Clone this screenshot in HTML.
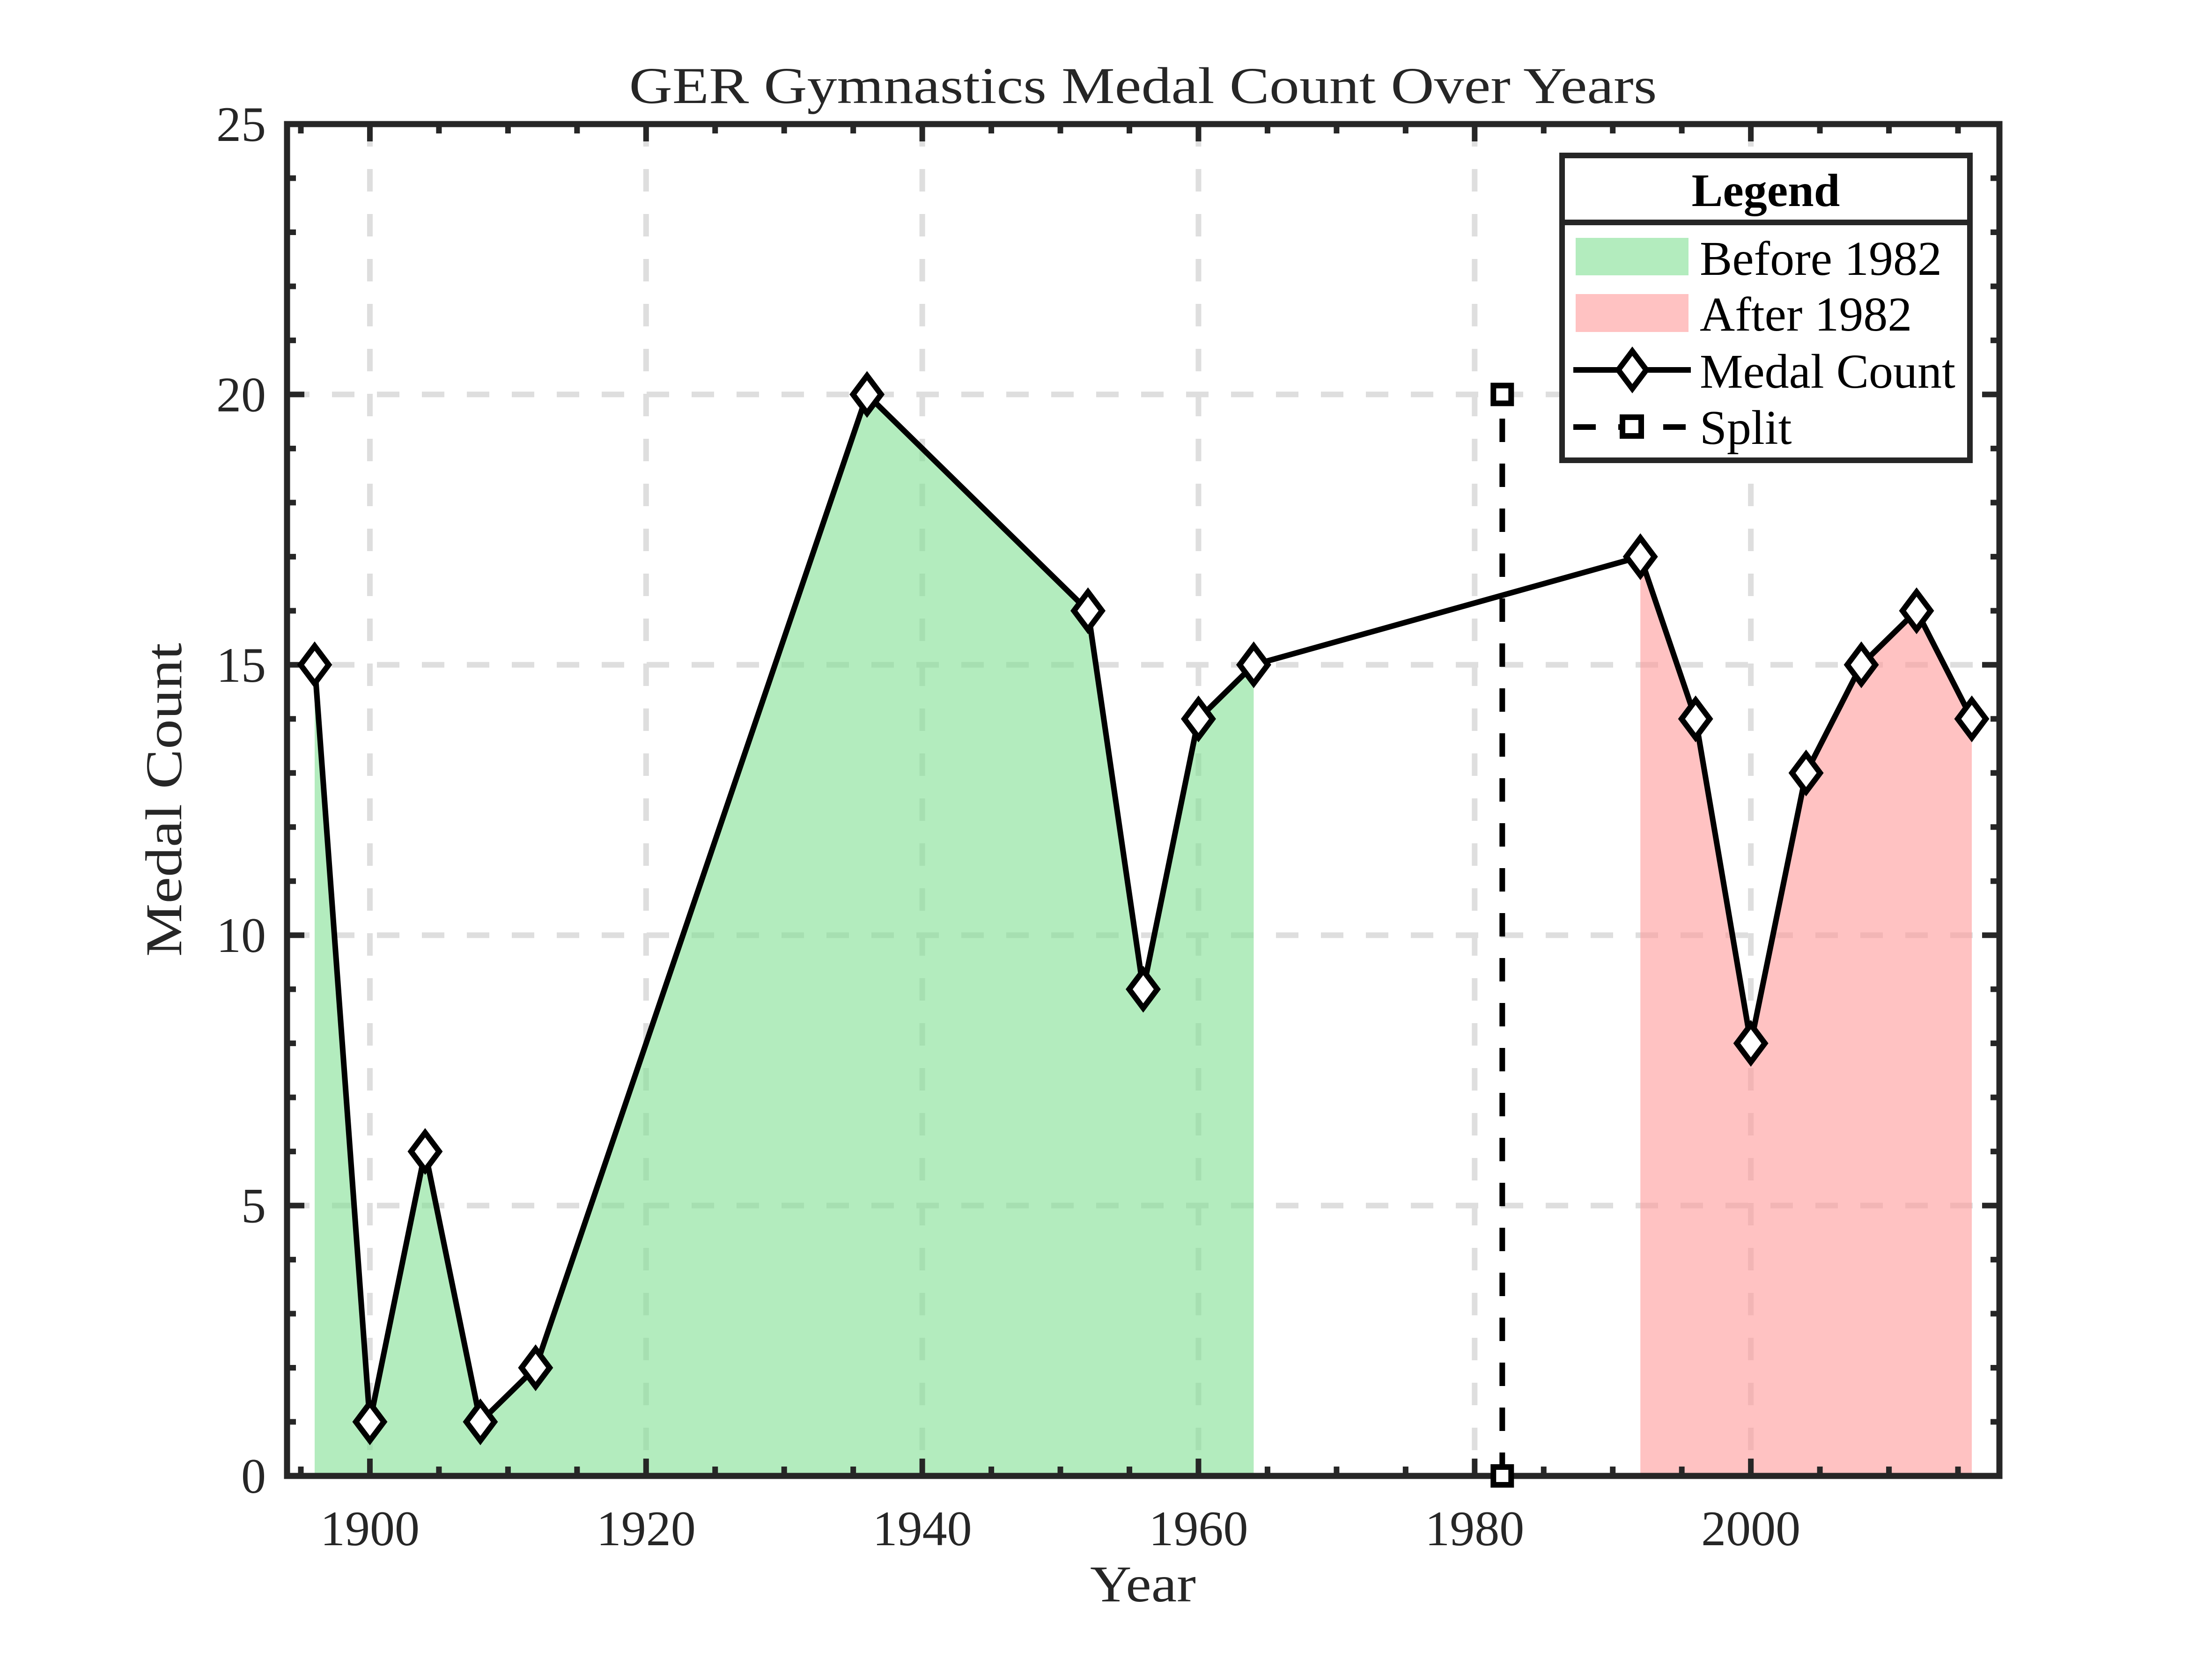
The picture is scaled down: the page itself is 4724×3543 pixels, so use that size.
<!DOCTYPE html>
<html><head><meta charset="utf-8"><style>
html,body{margin:0;padding:0;background:#fff;}
svg{display:block;font-family:"Liberation Serif",serif;}
</style></head><body>
<svg id="chart" xmlns="http://www.w3.org/2000/svg" width="4724" height="3543" viewBox="0 0 4724 3543">
<rect x="0" y="0" width="4724" height="3543" fill="#fff"/>
<g id="grid"></g>
<g id="fills"></g>
<g id="axes"></g>
<g id="series"></g>
<text x="2441" y="220" font-size="110" text-anchor="middle" textLength="2195" lengthAdjust="spacingAndGlyphs" fill="#262626">GER Gymnastics Medal Count Over Years</text>
<text x="2441" y="3420" font-size="110" text-anchor="middle" textLength="226" lengthAdjust="spacingAndGlyphs" fill="#262626">Year</text>
<text x="0" y="0" font-size="110" text-anchor="middle" textLength="670" lengthAdjust="spacingAndGlyphs" fill="#262626" transform="translate(387,1708) rotate(-90)">Medal Count</text>
<g id="legend">
<rect x="3336" y="332" width="871" height="651" fill="#fff" stroke="#262626" stroke-width="12"/>
<line x1="3336" y1="475" x2="4207" y2="475" stroke="#262626" stroke-width="12"/>
<text x="3771" y="440" font-size="100" font-weight="bold" text-anchor="middle">Legend</text>
<g>
<rect x="3365" y="508" width="241" height="80" fill="#b3ecbe"/>
<text x="3630" y="587" font-size="104">Before 1982</text></g>
<g>
<rect x="3365" y="628" width="241" height="81" fill="#ffc2c2"/>
<text x="3630" y="706" font-size="104">After 1982</text></g>
<g>
<line x1="3360" y1="790" x2="3611" y2="790" stroke="#000" stroke-width="12"/>
<polygon points="3486,750 3516,790 3486,830 3456,790" fill="#fff" stroke="#000" stroke-width="12"/>
<text x="3630" y="828" font-size="104">Medal Count</text></g>
<g>
<line x1="3360" y1="912" x2="3610" y2="912" stroke="#000" stroke-width="12" stroke-dasharray="48,48"/>
<rect x="3465" y="891" width="40" height="40" fill="#fff" stroke="#000" stroke-width="12"/>
<text x="3630" y="948" font-size="104">Split</text></g>
</g>
</svg>
<script>
const years = [1896,1900,1904,1908,1912,1936,1952,1956,1960,1964,1992,1996,2000,2004,2008,2012,2016];
const medals = [15,1,6,1,2,20,16,9,14,15,17,14,8,13,15,16,14];
const splitYear = 1982;
const splitRange = [0,20];
const xTicks = [1900,1920,1940,1960,1980,2000];
const yTicks = [0,5,10,15,20,25];
const xDomain = [1894,2018];
const yDomain = [0,25];

const L=613,R=4270,T=265,B=3152;
const X=v=>L+(v-xDomain[0])/(xDomain[1]-xDomain[0])*(R-L);
const Y=v=>B-(v-yDomain[0])/(yDomain[1]-yDomain[0])*(B-T);
const NS='http://www.w3.org/2000/svg';
function mk(tag,attrs,parent){const e=document.createElementNS(NS,tag);for(const k in attrs)e.setAttribute(k,attrs[k]);parent.appendChild(e);return e;}
const grid=document.getElementById('grid'),fills=document.getElementById('fills'),axes=document.getElementById('axes'),series=document.getElementById('series');

xTicks.forEach(t=>{const g=mk('line',{x1:X(t),y1:T,x2:X(t),y2:B,stroke:'#dedede','stroke-width':12,'stroke-dasharray':'48,48'},grid);

});
yTicks.forEach(t=>{const g=mk('line',{x1:L,y1:Y(t),x2:R,y2:Y(t),stroke:'#dedede','stroke-width':12,'stroke-dasharray':'48,48'},grid);

});

const fr=mk('rect',{x:L,y:T,width:R-L,height:B-T,fill:'none',stroke:'#262626','stroke-width':13},axes);


for(let yr=1895;yr<=2015;yr+=5){const major=xTicks.includes(yr);const len=major?37:20;
 mk('line',{x1:X(yr),y1:B,x2:X(yr),y2:B-len,stroke:'#262626','stroke-width':12},axes);
 mk('line',{x1:X(yr),y1:T,x2:X(yr),y2:T+len,stroke:'#262626','stroke-width':12},axes);}
for(let v=1;v<25;v++){const major=v%5===0;const len=major?37:19;
 mk('line',{x1:L,y1:Y(v),x2:L+len,y2:Y(v),stroke:'#262626','stroke-width':12},axes);
 mk('line',{x1:R,y1:Y(v),x2:R-len,y2:Y(v),stroke:'#262626','stroke-width':12},axes);}
xTicks.forEach(t=>{const tx=mk('text',{x:X(t),y:3300,'font-size':106,'text-anchor':'middle',fill:'#262626'},axes);tx.textContent=t;

});
yTicks.forEach(t=>{const tx=mk('text',{x:568,y:Y(t)+36,'font-size':106,'text-anchor':'end',fill:'#262626'},axes);tx.textContent=t;

});

function area(filterFn,color,name){const idx=years.map((y,i)=>i).filter(i=>filterFn(years[i]));if(!idx.length)return;
 let d='M'+X(years[idx[0]])+','+Y(0);idx.forEach(i=>{d+=' L'+X(years[i])+','+Y(medals[i]);});d+=' L'+X(years[idx[idx.length-1]])+','+Y(0)+' Z';
 const p=mk('path',{d:d,fill:color,'fill-opacity':0.6},fills);
 
 }
area(y=>y<splitYear-15,'rgb(128,223,147)','fill-before-1982');
area(y=>y>splitYear,'rgb(255,153,153)','fill-after-1982');

const sl=mk('line',{x1:X(splitYear),y1:Y(splitRange[0]),x2:X(splitYear),y2:Y(splitRange[1]),stroke:'#000','stroke-width':12,'stroke-dasharray':'50,46'},series);


splitRange.forEach(v=>{const s=mk('rect',{x:X(splitYear)-19,y:Y(v)-19,width:38,height:38,fill:'#fff',stroke:'#000','stroke-width':12},series);

});

const pl=mk('polyline',{points:years.map((y,i)=>X(y)+','+Y(medals[i])).join(' '),fill:'none',stroke:'#000','stroke-width':12,'stroke-linejoin':'round'},series);


years.forEach((y,i)=>{const cx=X(y),cy=Y(medals[i]);
 const m=mk('polygon',{points:`${cx},${cy-40} ${cx+30},${cy} ${cx},${cy+40} ${cx-30},${cy}`,fill:'#fff',stroke:'#000','stroke-width':12},series);
 
 });
</script>
</body></html>
